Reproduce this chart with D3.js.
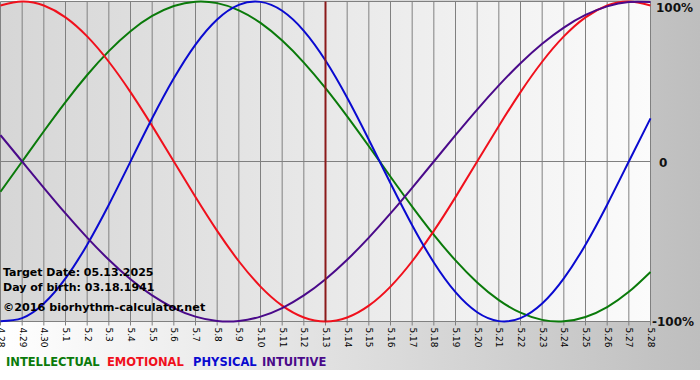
<!DOCTYPE html>
<html><head><meta charset="utf-8">
<script src="https://cdn.jsdelivr.net/npm/d3@7"></script>
<style>
html,body{margin:0;padding:0;background:#fff;}
svg{display:block;}
text{font-family:"DejaVu Sans",Verdana,sans-serif;}
</style></head>
<body>
<svg id="c" width="700" height="380"></svg>
<script>
const dates = ["4.28","4.29","4.30","5.1","5.2","5.3","5.4","5.5","5.6","5.7","5.8","5.9","5.10","5.11","5.12","5.13","5.14","5.15","5.16","5.17","5.18","5.19","5.20","5.21","5.22","5.23","5.24","5.25","5.26","5.27","5.28"];
const intellectual = [-0.1893,0,0.1893,0.3717,0.5406,0.6901,0.8146,0.9096,0.9718,0.9989,0.9898,0.9450,0.8660,0.7557,0.6182,0.4582,0.2817,0.0951,-0.0951,-0.2817,-0.4582,-0.6182,-0.7557,-0.8660,-0.9450,-0.9898,-0.9989,-0.9718,-0.9096,-0.8146,-0.6901];
const emotional = [0.9749,1,0.9749,0.9010,0.7818,0.6235,0.4339,0.2225,0,-0.2225,-0.4339,-0.6235,-0.7818,-0.9010,-0.9749,-1,-0.9749,-0.9010,-0.7818,-0.6235,-0.4339,-0.2225,0,0.2225,0.4339,0.6235,0.7818,0.9010,0.9749,1,0.9749];
const physical = [-0.9977,-0.9791,-0.8879,-0.7308,-0.5196,-0.2698,0,0.2698,0.5196,0.7308,0.8879,0.9791,0.9977,0.9423,0.8170,0.6311,0.3984,0.1362,-0.1362,-0.3984,-0.6311,-0.8170,-0.9423,-0.9977,-0.9791,-0.8879,-0.7308,-0.5196,-0.2698,0,0.2698];
const intuitive = [0.1646,0,-0.1646,-0.3247,-0.4759,-0.6142,-0.7357,-0.8372,-0.9158,-0.9694,-0.9966,-0.9966,-0.9694,-0.9158,-0.8372,-0.7357,-0.6142,-0.4759,-0.3247,-0.1646,0,0.1646,0.3247,0.4759,0.6142,0.7357,0.8372,0.9158,0.9694,0.9966,0.9966];
const seriesNames = ["INTELLECTUAL","EMOTIONAL","PHYSICAL","INTUITIVE"];
const seriesColors = ["#0a7a0a","#f0101c","#0a0ad0","#4a0a8a"];
const yTicks = [1,0,-1];
const yTickLabels = ["100%","0","-100%"];
const targetDate = "5.13";
const infoLines = ["Target Date: 05.13.2025","Day of birth: 03.18.1941","\u00a92016 biorhythm-calculator.net"];

const svg = d3.select("#c");
const defs = svg.append("defs");
const g1 = defs.append("linearGradient").attr("id","outer").attr("x1","0").attr("x2","1").attr("y1","0").attr("y2","0");
g1.append("stop").attr("offset","0").attr("stop-color","#ffffff");
g1.append("stop").attr("offset","1").attr("stop-color","#bebebe");
const g2 = defs.append("linearGradient").attr("id","plotbg").attr("x1","0").attr("x2","1").attr("y1","0").attr("y2","0");
g2.append("stop").attr("offset","0").attr("stop-color","#d6d6d6");
g2.append("stop").attr("offset","1").attr("stop-color","#fbfbfb");

svg.append("rect").attr("x",0).attr("y",0).attr("width",700).attr("height",370).attr("fill","url(#outer)");

const x = d3.scalePoint().domain(dates).range([0.5,650.5]);
const y = d3.scaleLinear().domain([-1,1]).range([321.5,1.5]);

svg.append("rect").attr("x",x(dates[0])).attr("y",y(1)).attr("width",x(dates[dates.length-1])-x(dates[0])).attr("height",y(-1)-y(1)).attr("fill","url(#plotbg)");

// vertical grid lines with tick extension
svg.append("g").selectAll("line").data(dates).join("line")
  .attr("x1",d=>x(d)).attr("x2",d=>x(d))
  .attr("y1",y(1)).attr("y2",y(-1)+4)
  .attr("stroke","#808080").attr("stroke-width",1);

// horizontal lines
svg.append("g").selectAll("line").data(yTicks).join("line")
  .attr("x1",x(dates[0])).attr("x2",x(dates[dates.length-1]))
  .attr("y1",d=>y(d)).attr("y2",d=>y(d))
  .attr("stroke","#808080").attr("stroke-width",1);

// x axis labels
const xAxis = d3.axisBottom(x).tickSize(0).tickPadding(0);
const ax = svg.append("g").attr("transform",`translate(0,${y(-1)+5})`).call(xAxis);
ax.select(".domain").remove();
ax.selectAll("text")
  .attr("transform","rotate(90)")
  .attr("text-anchor","start")
  .attr("x",1).attr("y",0).attr("dy","0.35em")
  .attr("font-size",9).attr("font-family","\"DejaVu Sans\",Verdana,sans-serif")
  .attr("fill","#000");

// y labels at right
const yPos = [y(1)+6, y(0)+1, y(-1)];
svg.append("g").selectAll("text").data(yTicks).join("text")
  .attr("x",(d,i)=> i===1 ? 659 : (i===0 ? 656 : 652))
  .attr("y",(d,i)=>yPos[i]).attr("dy","0.35em")
  .attr("font-size",12).attr("font-weight","bold").attr("fill","#111")
  .text((d,i)=>yTickLabels[i]);

// curves
const allSeries = [intellectual, emotional, physical, intuitive];
const line = d3.line().x((d,i)=>x(dates[i])).y(d=>y(d)).curve(d3.curveNatural);
svg.append("g").selectAll("path").data(allSeries).join("path")
  .attr("d",d=>line(d)).attr("fill","none")
  .attr("stroke",(d,i)=>seriesColors[i]).attr("stroke-width",2);

// target line
svg.append("line").attr("x1",x(targetDate)).attr("x2",x(targetDate))
  .attr("y1",y(1)).attr("y2",y(-1)).attr("stroke","#8b1a1a").attr("stroke-width",2);

// info text
const infoY = [272, 287, 307];
svg.append("g").selectAll("text").data(infoLines).join("text")
  .attr("x",3).attr("y",(d,i)=>infoY[i]).attr("dy","0.35em")
  .attr("font-size",(d,i)=> i===2 ? 11.2 : 11).attr("font-weight","bold").attr("fill","#000")
  .text(d=>d);

// legend
const legX = [6,107,193,262];
svg.append("g").selectAll("text").data(seriesNames).join("text")
  .attr("x",(d,i)=>legX[i]).attr("y",362).attr("dy","0.35em")
  .attr("font-size",11.5).attr("font-weight","bold")
  .attr("fill",(d,i)=>seriesColors[i]).text(d=>d);
</script>
</body></html>
